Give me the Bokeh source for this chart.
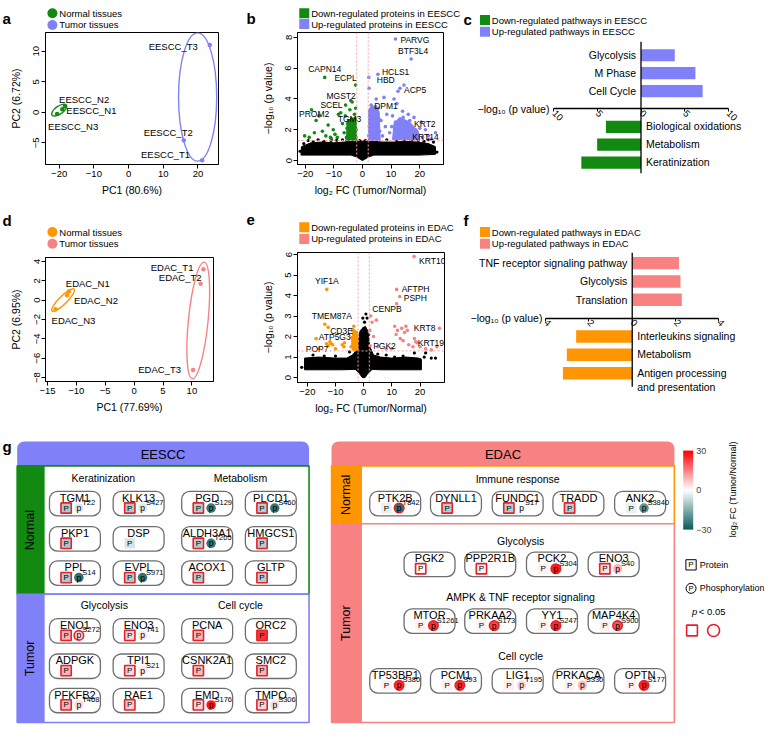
import math
from bokeh.plotting import figure
from bokeh.models import (Range1d, FixedTicker, CustomJSTickFormatter, Span, ColumnDataSource,
                          LinearColorMapper, ColorBar)
from bokeh.layouts import row, column
from bokeh.transform import transform
from bokeh.embed import file_html
from bokeh.resources import INLINE
from bokeh.core.properties import value

FONT = "Liberation Sans"
S = 764 / 780

GREEN = "#128a12"
BLUE = "#8080f8"
ORANGE = "#ff9500"
SALMON = "#f88282"
DOTC = "#f4a4a4"
RED = "#e3222b"

# ================= DATA =================
# (a) PCA, EESCC
a_samples = ["EESCC_N1", "EESCC_N2", "EESCC_N3", "EESCC_T1", "EESCC_T2", "EESCC_T3"]
a_pc1 = [-19.1, -18.3, -20.6, 21.2, 15.9, 23.4]
a_pc2 = [0.5, 1.0, -0.3, -7.85, -4.6, 11.0]
a_tumor = [0, 0, 0, 1, 1, 1]
a_ell_x = [-20.0, 19.9]
a_ell_y = [0.35, 2.5]
a_ell_w = [5.0, 11.0]
a_ell_h = [1.3, 21.0]
a_ell_ang = [0.6, 0.0]

# (d) PCA, EDAC
d_samples = ["EDAC_N1", "EDAC_N2", "EDAC_N3", "EDAC_T1", "EDAC_T2", "EDAC_T3"]
d_pc1 = [-11.3, -11.6, -13.6, 12.0, 11.5, 10.2]
d_pc2 = [0.9, 0.5, -0.95, 3.2, 1.7, -7.2]
d_tumor = [0, 0, 0, 1, 1, 1]
d_ell_x = [-12.3, 11.1]
d_ell_y = [0.0, -2.1]
d_ell_w = [5.4, 3.4]
d_ell_h = [0.8, 12.1]
d_ell_ang = [0.78, -0.1]

# (b) volcano, EESCC
b_cloud_x = [-21.5, -21.3, -18.0, -14.0, -10.0, -6.0, -3.0, -1.5, 0.0, 1.5, 3.0, 7.0, 11.0, 15.0,
             19.0, 23.0, 25.5, 25.5, 20.0, 10.0, 4.0, 2.0, 0.8, 0.0, -0.8, -2.0, -4.0, -10.0, -18.0]
b_cloud_y = [0.35, 0.9, 1.15, 1.2, 1.15, 1.2, 1.25, 1.3, 1.3, 1.3, 1.25, 1.2, 1.2, 1.25,
             1.2, 1.1, 0.9, 0.4, 0.35, 0.35, 0.35, 0.22, 0.08, 0.0, 0.08, 0.22, 0.35, 0.35, 0.35]
b_ns_x = [-21.8, -20.5, -19.0, -17.2, -15.5, -13.5, -11.0, -9.0, -7.0, -5.5, -4.0, -1.6, -1.2, -0.8,
          0.8, 1.2, 1.6, 5.0, 8.5, 12.0, 14.5, 17.0, 19.5, 21.5, 23.0, 24.8, 26.0, -1.0, 1.0, -0.4,
          0.4, -1.8, 1.8, -0.6, 0.6]
b_ns_y = [0.6, 1.1, 1.3, 1.22, 1.35, 1.25, 1.3, 1.32, 1.35, 1.3, 1.28, 1.2, 0.9, 0.6,
          0.55, 0.95, 1.25, 1.3, 1.35, 1.3, 1.28, 1.32, 1.3, 1.25, 1.35, 1.2, 0.55, 1.3, 1.3, 0.35,
          0.35, 0.5, 0.5, 1.1, 1.0]
b_dn_x = [-17.8, -15.2, -14.0, -12.8, -12.0, -11.2, -10.2, -9.6, -8.4, -7.0, -6.4, -6.0, -5.4, -4.8,
          -4.4, -3.6, -3.2, -2.8, -2.4, -20.2, -18.6, -16.8, -10.8, -8.8, -3.9, -2.9, -4.9, -3.3,
          -2.3, -2.6, -4.3, -5.2, -3.7, -2.5, -3.0, -4.6, -2.2, -3.5, -2.7, -4.0, -5.6, -3.1]
b_dn_y = [3.3, 2.9, 1.9, 1.6, 2.3, 1.5, 2.0, 1.7, 3.0, 2.4, 1.8, 2.9, 2.1, 2.6,
          3.3, 3.8, 2.5, 3.0, 3.4, 1.6, 1.5, 1.8, 1.4, 1.5, 2.3, 2.0, 1.6, 1.7,
          1.5, 2.4, 1.9, 2.4, 2.7, 2.1, 1.4, 2.2, 2.0, 1.9, 2.6, 1.6, 1.5, 2.2]
b_up_x = [2.3, 14.5, 12.4, 7.5, 11.0, 12.0, 14.0, 16.0, 18.0, 20.0, 22.0, 23.0, 10.5, 11.5, 15.5,
          17.0, 13.0, 19.0, 9.5, 8.0, 7.0, 6.5, 5.5, 3.0, 4.0, 2.5, 5.0, 3.5, 2.2, 6.0, 24.0, 21.0,
          8.5, 12.8, 16.5, 14.2, 10.2, 18.5, 20.5, 2.8, 3.8, 4.6, 5.8, 2.4, 3.2, 4.3, 5.2, 2.6, 3.6, 4.9]
b_up_y = [4.7, 4.9, 4.5, 4.1, 4.0, 3.7, 3.2, 3.0, 2.8, 2.1, 2.0, 1.6, 2.9, 2.5, 2.3,
          1.7, 1.6, 1.5, 1.8, 2.2, 1.6, 2.6, 3.4, 3.6, 3.1, 2.8, 2.4, 1.9, 1.6, 1.9, 1.4, 1.5,
          3.0, 2.0, 2.6, 2.8, 2.2, 2.0, 2.5, 3.3, 2.9, 3.5, 2.7, 2.2, 1.8, 2.0, 3.0, 1.5, 2.5, 1.7]
b_core_dn_x = [-5.6, -5.4, -4.4, -2.2, -2.0]
b_core_dn_y = [1.3, 2.3, 2.7, 2.8, 1.3]
b_core_up1_x = [2.1, 2.1, 3.4, 5.8, 6.2]
b_core_up1_y = [1.3, 3.3, 3.6, 3.2, 1.3]
b_core_up2_x = [10.5, 11.0, 13.0, 16.5, 19.5, 20.0]
b_core_up2_y = [1.35, 2.4, 2.8, 2.5, 1.9, 1.35]
b_lab = ["PARVG", "BTF3L4", "CAPN14", "ECPL", "HCLS1", "HBD", "ACP5", "MGST2", "SCEL", "PROM2",
         "TGM3", "DPM1", "KRT2", "KRT14"]
b_lab_x = [11.5, 17.0, -13.2, -2.4, 5.4, 2.2, 13.1, -4.1, -5.9, -16.2, -7.6, 4.8, 16.6, 25.5]
b_lab_y = [7.9, 6.6, 5.4, 4.9, 5.6, 5.4, 4.7, 3.9, 3.6, 2.6, 3.1, 4.0, 2.1, 1.8]

# (e) volcano, EDAC
e_cloud_x = [-21.0, -21.0, -16.0, -10.0, -6.0, -4.0, -2.8, -2.0, -1.2, -0.4, 0.6, 1.4, 2.2, 3.5,
             6.0, 10.0, 15.0, 19.5, 20.5, 20.5, 6.0, 3.0, 1.5, 0.5, -0.5, -1.5, -3.0, -8.0]
e_cloud_y = [0.38, 0.95, 1.0, 0.95, 0.95, 1.1, 1.3, 1.9, 2.3, 2.4, 2.5, 2.3, 1.5, 1.1,
             1.0, 0.95, 1.0, 0.95, 0.9, 0.38, 0.38, 0.4, 0.2, 0.0, 0.0, 0.2, 0.4, 0.38]
e_ns_x = [0.8, 1.2, 0.3, -0.8, 1.8, -22.0, 24.0, 22.0, -18.0, -10.0, 5.0, 14.0, 18.0, 21.5, -5.0,
          -2.0, 0.0, -1.4, 1.5, -0.3, 25.5, -14.0, 8.0, 11.0]
e_ns_y = [3.1, 2.9, 2.7, 2.0, 2.1, 0.5, 0.95, 1.2, 1.1, 1.05, 1.15, 1.05, 1.2, 1.0, 1.25,
          1.3, 2.4, 1.7, 1.9, 2.9, 0.95, 1.05, 1.1, 1.0]
e_dn_x = [-12.0, -11.0, -12.6, -7.6, -7.0, -6.8, -4.0, -3.5, -3.0, -2.5, -3.8, -2.8, -2.3, -4.5,
          -3.2, -2.6, -16.0, -10.0, -13.2, -3.4, -2.2, -4.2]
e_dn_y = [1.75, 1.6, 1.55, 1.6, 1.5, 1.7, 2.3, 2.5, 1.9, 2.2, 1.6, 1.5, 1.8, 1.5,
          2.1, 1.4, 1.4, 1.4, 1.65, 1.35, 2.0, 1.95]
e_up_x = [2.5, 3.0, 4.5, 2.2, 3.5, 11.0, 12.0, 13.5, 14.5, 15.5, 13.0, 14.0, 16.0, 17.5, 19.0,
          18.0, 20.0, 22.0, 24.0, 10.0, 8.0, 5.0, 26.0, 11.5, 15.0]
e_up_y = [3.0, 2.7, 2.8, 2.3, 2.0, 2.5, 2.3, 2.4, 2.2, 2.3, 1.9, 1.8, 1.6, 1.5, 1.7,
          1.9, 1.5, 1.4, 1.35, 1.4, 1.4, 1.5, 1.5, 2.1, 2.5]
e_core_dn_x = [-4.1, -4.3, -3.6, -2.2, -2.0]
e_core_dn_y = [1.35, 1.8, 2.4, 2.2, 1.35]
e_lab = ["KRT10", "YIF1A", "AFTPH", "PSPH", "CENPB", "TMEM87A", "CD3E", "ATP5G3", "POP7", "PGK2",
         "KRT8", "KRT19"]
e_lab_x = [17.9, -13.1, 11.7, 12.8, 11.7, -13.8, -12.6, -11.7, -16.9, 2.3, 26.9, 18.5]
e_lab_y = [5.9, 4.3, 4.3, 3.95, 3.6, 2.6, 2.45, 1.67, 1.9, 1.55, 2.4, 1.75]

# (c) pathways EESCC (-log10 p)
c_up_names = ["Glycolysis", "M Phase", "Cell Cycle"]
c_up_vals = [3.87, 6.24, 7.07]
c_dn_names = ["Biological oxidations", "Metabolism", "Keratinization"]
c_dn_vals = [4.02, 5.03, 6.84]

# (f) pathways EDAC (-log10 p)
f_up_names = ["TNF receptor signaling pathway", "Glycolysis", "Translation"]
f_up_vals = [2.16, 2.23, 2.29]
f_dn_names = ["Interleukins signaling", "Metabolism", "Antigen processing\nand presentation"]
f_dn_vals = [2.59, 3.02, 3.2]

# (g) protein / phosphosite log2 FC (Tumor/Normal), significance (p<0.05)
eescc_n_genes = ["TGM1", "KLK13", "PGD", "PLCD1", "PKP1", "DSP", "ALDH3A1", "HMGCS1", "PPL", "EVPL", "ACOX1", "GLTP"]
eescc_n_pfc = [-10, -10, -9, -9, -10, -5, -9, -9, -10, -10, -9, -9]
eescc_n_psig = [1, 1, 1, 1, 1, 0, 1, 1, 1, 1, 1, 1]
eescc_n_site = ["T22", "S427", "S129", "S460", "", "", "T205", "", "S14", "S971", "", ""]
eescc_n_sfc = [-4, -4, -25, -25, 0, 0, -25, 0, -26, -25, 0, 0]
eescc_n_ssig = [0, 0, 0, 0, 0, 0, 0, 0, 0, 0, 0, 0]

eescc_t_genes = ["ENO1", "ENO3", "PCNA", "ORC2", "ADPGK", "TPI1", "CSNK2A1", "SMC2", "PFKFB2", "RAE1", "EMD", "TMPO"]
eescc_t_pfc = [9, 5, 9, 24, 9, 5, 8, 9, 9, 6, 5, 5]
eescc_t_psig = [1, 1, 1, 1, 1, 1, 1, 1, 1, 1, 1, 1]
eescc_t_site = ["S272", "T41", "", "", "", "S21", "", "", "T468", "", "S176", "S306"]
eescc_t_sfc = [5, 3, 0, 0, 0, 3, 0, 0, 4, 0, 27, 4]
eescc_t_ssig = [1, 0, 0, 0, 0, 0, 0, 0, 0, 0, 0, 0]

edac_n_genes = ["PTK2B", "DYNLL1", "FUNDC1", "TRADD", "ANK2"]
edac_n_pfc = [-3, -9, -9, -9, -3]
edac_n_psig = [0, 1, 1, 1, 0]
edac_n_site = ["T842", "", "S17", "", "S3840"]
edac_n_sfc = [-26, 0, -1, 0, -20]
edac_n_ssig = [1, 0, 0, 0, 0]

edac_glyc_genes = ["PGK2", "PPP2R1B", "PCK2", "ENO3"]
edac_glyc_pfc = [1, 2, 2, 4]
edac_glyc_psig = [1, 1, 0, 1]
edac_glyc_site = ["", "", "S304", "S40"]
edac_glyc_sfc = [0, 0, 27, 9]
edac_glyc_ssig = [0, 0, 1, 0]

edac_ampk_genes = ["MTOR", "PRKAA2", "YY1", "MAP4K4"]
edac_ampk_pfc = [2, 2, 2, 2]
edac_ampk_psig = [0, 0, 0, 0]
edac_ampk_site = ["S1261", "S173", "S247", "S900"]
edac_ampk_sfc = [24, 22, 25, 20]
edac_ampk_ssig = [1, 1, 1, 1]

edac_cc_genes = ["TP53BP1", "PCM1", "LIG1", "PRKACA", "OPTN"]
edac_cc_pfc = [2, 2, 2, 2, 2]
edac_cc_psig = [0, 0, 0, 0, 0]
edac_cc_site = ["S380", "S93", "T195", "S330", "S177"]
edac_cc_sfc = [25, 25, 5, 8, 26]
edac_cc_ssig = [1, 1, 0, 0, 1]

cb_ticks = [-30, 0, 30]


# ================= HELPERS =================
def minus_fmt():
    return CustomJSTickFormatter(code="return tick < 0 ? '\u2212' + Math.abs(tick) : String(tick);")


def abs_fmt():
    return CustomJSTickFormatter(code="return String(Math.abs(tick));")


def style_axis(ax, ticks, fmt, orient=None, label_standoff=4):
    ax.ticker = FixedTicker(ticks=ticks)
    ax.formatter = fmt
    ax.axis_line_color = "black"
    ax.axis_line_width = 1
    ax.major_tick_line_color = "black"
    ax.major_tick_out = 4
    ax.major_tick_in = 0
    ax.minor_tick_line_color = None
    ax.major_label_standoff = 2
    ax.major_label_text_font = FONT
    ax.major_label_text_font_size = "9.5px"
    ax.major_label_text_color = "black"
    ax.axis_label_text_font = FONT
    ax.axis_label_text_font_size = "10.5px"
    ax.axis_label_text_font_style = "normal"
    ax.axis_label_text_color = "black"
    ax.axis_label_standoff = label_standoff
    if orient is not None:
        ax.major_label_orientation = orient


def bare(w, h, xr, yr):
    f = figure(width=w, height=h, x_range=xr, y_range=yr, output_backend="svg", toolbar_location=None,
               min_border=0, x_axis_location=None, y_axis_location=None, frame_align=False)
    f.grid.visible = False
    f.outline_line_color = None
    f.background_fill_color = "white"
    f.border_fill_color = "white"
    return f


class Panel:
    """A header strip (letter + key) stacked over the plot; header drawn in reference pixels."""

    def __init__(self, w, h, ox, oy, hdr, frame, xr, yr, axes="xy"):
        hh = round(hdr * S)
        self.h = bare(w, hh, Range1d(ox, ox + w / S), Range1d(oy + hh / S, oy))
        fl, ft, fr, fb = frame
        ph = h - hh
        left = round(fl * S)
        top = max(round(ft * S) - hh, 0)
        right = w - round(fr * S)
        bottom = h - round(fb * S)
        kw = {}
        if "x" not in axes:
            kw["x_axis_location"] = None
        if "y" not in axes:
            kw["y_axis_location"] = None
        p = figure(width=w, height=ph, x_range=Range1d(*xr), y_range=Range1d(*yr),
                   output_backend="svg", toolbar_location=None, frame_align=False,
                   min_border_left=left, min_border_right=right,
                   min_border_top=top, min_border_bottom=bottom, **kw)
        p.grid.visible = False
        p.outline_line_color = None
        p.background_fill_color = "white"
        p.border_fill_color = "white"
        self.p = p
        self.root = column(self.h, p)

    def letter(self, x, y, t):
        self.h.text(x=[x], y=[y], text=[t], text_align="left", text_baseline="alphabetic",
                    text_font=value(FONT), text_font_size="15px", text_font_style="bold", text_color="black")

    def key(self, x, ys, labels, colors, marker):
        self.h.scatter(x=[x] * len(ys), y=ys, marker=marker, size=10, color=colors, line_color=None)
        self.h.text(x=[x + 7] * len(ys), y=ys, text=labels, text_align="left", text_baseline="middle",
                    text_font=value(FONT), text_font_size="9.5px", text_color="black")


def add_labels(p, names, xs, ys, offs, size="8.5px"):
    for al in ("left", "center", "right"):
        idx = [i for i, o in enumerate(offs) if o[2] == al]
        if not idx:
            continue
        src = ColumnDataSource(dict(x=[xs[i] for i in idx], y=[ys[i] for i in idx],
                                    t=[names[i] for i in idx], dx=[offs[i][0] for i in idx],
                                    dy=[offs[i][1] for i in idx]))
        p.text(x="x", y="y", text="t", x_offset="dx", y_offset="dy", source=src, text_align=al,
               text_baseline="middle", text_font=value(FONT), text_font_size=size, text_color="black")


def pca(pn, samples, pc1, pc2, tumor, ell, colN, colT, xt, yt, xl, yl, offs):
    p = pn.p
    p.outline_line_color = "black"
    style_axis(p.xaxis[0], xt, minus_fmt(), label_standoff=4)
    style_axis(p.yaxis[0], yt, minus_fmt(), orient="vertical", label_standoff=9)
    p.xaxis.axis_label = xl
    p.yaxis.axis_label = yl
    ex, ey, ew, eh, ea = ell
    p.ellipse(x=ex, y=ey, width=ew, height=eh, angle=ea, fill_color=None,
              line_color=[colN, colT], line_width=1.4)
    cols = [colT if t else colN for t in tumor]
    p.scatter(x=pc1, y=pc2, size=4.5, color=cols, line_color=None)
    add_labels(p, samples, pc1, pc2, offs, size="9.5px")


def volcano(pn, cloud, ns, dn, up, cores, labs, colD, colU, yt, offs):
    p = pn.p
    p.outline_line_color = "black"
    style_axis(p.xaxis[0], [-20, -10, 0, 10, 20], minus_fmt(), label_standoff=4)
    style_axis(p.yaxis[0], yt, minus_fmt(), orient="vertical", label_standoff=9)
    p.xaxis.axis_label = "log\u2082 FC (Tumor/Normal)"
    p.yaxis.axis_label = "\u2212log\u2081\u2080 (p value)"
    p.patch(x=cloud[0], y=cloud[1], fill_color="black", line_color="black", line_width=1)
    p.scatter(x=ns[0], y=ns[1], size=3.2, color="black", line_color=None)
    for cx, cy, cc in cores:
        p.patch(x=cx, y=cy, fill_color=cc, line_color=cc, line_width=1)
    p.scatter(x=dn[0], y=dn[1], size=3.6, color=colD, line_color=None)
    p.scatter(x=up[0], y=up[1], size=3.6, color=colU, line_color=None)
    lcols = [colD if v < 0 else colU for v in labs[1]]
    p.scatter(x=labs[1], y=labs[2], size=3.6, color=lcols, line_color=None)
    for loc in (-2, 2):
        p.add_layout(Span(location=loc, dimension="height", line_color=DOTC, line_dash="2 2", line_width=1))
    p.add_layout(Span(location=1.3, dimension="width", line_color=DOTC, line_dash="2 2", line_width=1))
    add_labels(p, labs[0], labs[1], labs[2], offs, size="8.5px")


def pathway(pn, up_names, up_vals, dn_names, dn_vals, colU, colD, ticks, lab_x, vline):
    p = pn.p
    up_pos = [3, 2, 1]
    dn_pos = [-1, -2, -3]
    ax = p.xaxis[0]
    style_axis(ax, ticks, abs_fmt(), orient=-math.pi / 4)
    ax.fixed_location = 0
    ax.bounds = (ticks[0], ticks[-1])
    ax.axis_line_width = 1.3
    ax.major_tick_out = 3
    ax.major_label_standoff = 0
    ax.major_label_text_font_size = "9.5px"
    p.hbar(y=up_pos, left=0, right=up_vals, height=0.68, fill_color=colU, line_color=None)
    p.hbar(y=dn_pos, left=[-v for v in dn_vals], right=0, height=0.68, fill_color=colD, line_color=None)
    p.segment(x0=[0], y0=[vline[0]], x1=[0], y1=[vline[1]], line_color="black", line_width=1.3)
    p.text(x=[0] * 3, y=up_pos, text=up_names, x_offset=-5, text_align="right", text_baseline="middle",
           text_font=value(FONT), text_font_size="10.5px", text_color="black")
    p.text(x=[0] * 3, y=dn_pos, text=dn_names, x_offset=5, y_offset=-6.5, text_align="left",
           text_baseline="top", text_font=value(FONT), text_font_size="10.5px", text_color="black",
           text_line_height=1.2)
    p.text(x=[lab_x], y=[0], text=["\u2212log\u2081\u2080 (p value)"], text_align="right",
           text_baseline="middle", text_font=value(FONT), text_font_size="10.5px", text_color="black")


# ================= PANELS =================
W = [245, 215, 304]
H = [210, 227, 288]

# a
pa = Panel(W[0], H[0], 0, 0, 31, (46, 33, 223, 167), (-23.94, 25.92), (-8.55, 13.06))
pca(pa, a_samples, a_pc1, a_pc2, a_tumor, (a_ell_x, a_ell_y, a_ell_w, a_ell_h, a_ell_ang), GREEN, BLUE,
    [-20, -10, 0, 10, 20], [-5, 0, 5, 10], "PC1 (80.6%)", "PC2 (6.72%)",
    [(4, 1, "left"), (-6, -7, "left"), (-9, 12, "left"), (-12, -6, "right"), (9, -8, "right"), (-12, 1, "right")])
pa.letter(2, 18, "a")
pa.key(53, [13, 25], ["Normal tissues", "Tumor tissues"], [GREEN, BLUE], "circle")

# b
pb = Panel(W[1], H[0], 250, 0, 31, (53, 33, 202, 167), (-22.7, 28.3), (-0.26, 8.32))
volcano(pb, (b_cloud_x, b_cloud_y), (b_ns_x, b_ns_y), (b_dn_x, b_dn_y), (b_up_x, b_up_y),
        [(b_core_dn_x, b_core_dn_y, GREEN), (b_core_up1_x, b_core_up1_y, BLUE), (b_core_up2_x, b_core_up2_y, BLUE)],
        (b_lab, b_lab_x, b_lab_y), GREEN, BLUE, [0, 2, 4, 6, 8],
        [(5, 1, "left"), (2, -8, "center"), (0, -8, "center"), (1, -7, "right"), (4, -2, "left"),
         (8, 3, "left"), (4, 2, "left"), (5, -5, "right"), (-3, 0, "right"), (-2, -7, "center"),
         (-3, 6, "left"), (-2, 7, "left"), (4, -4, "left"), (-10, 4, "center")])
pb.letter(251, 18, "b")
pb.key(310, [13, 24], ["Down-regulated proteins in EESCC", "Up-regulated proteins in EESCC"], [GREEN, BLUE], "square")

# c
pc = Panel(W[2], H[0], 470, 0, 40, (10, 42, 310, 177), (-19.55, 14.16), (-3.61, 3.77), axes="x")
pathway(pc, c_up_names, c_up_vals, c_dn_names, c_dn_vals, BLUE, GREEN, [-10, -5, 0, 5, 10], -10.5, (-3.61, 3.77))
pc.letter(473, 19, "c")
pc.key(495, [20, 32], ["Down-regulated pathways in EESCC", "Up-regulated pathways in EESCC"], [GREEN, BLUE], "square")

# d
pd = Panel(W[0], H[1], 0, 215, 42, (46, 48, 217, 175), (-15.34, 13.74), (-8.4, 4.4))
pca(pd, d_samples, d_pc1, d_pc2, d_tumor, (d_ell_x, d_ell_y, d_ell_w, d_ell_h, d_ell_ang), ORANGE, SALMON,
    [-15, -10, -5, 0, 5, 10], [-8, -6, -4, -2, 0, 2, 4], "PC1 (77.69%)", "PC2 (6.95%)",
    [(-3, -8, "left"), (7, 5, "left"), (-4, 11, "left"), (-10, -2, "right"), (1, -6, "right"), (-12, 0, "right")])
pd.letter(2, 225, "d")
pd.key(53, [237, 249], ["Normal tissues", "Tumor tissues"], [ORANGE, SALMON], "circle")

# e
pe = Panel(W[1], H[1], 250, 215, 38, (53, 43, 203, 176), (-23.5, 28.7), (-0.24, 6.1))
volcano(pe, (e_cloud_x, e_cloud_y), (e_ns_x, e_ns_y), (e_dn_x, e_dn_y), (e_up_x, e_up_y),
        [(e_core_dn_x, e_core_dn_y, ORANGE)],
        (e_lab, e_lab_x, e_lab_y), ORANGE, SALMON, [0, 1, 2, 3, 4, 5, 6],
        [(5, 4, "left"), (0, -8, "center"), (5, 0, "left"), (4, 1, "left"), (5, 5, "right"),
         (7, -8, "center"), (2, 4, "left"), (4, -6, "center"), (1, 10, "center"), (3, 0, "left"),
         (-4, 0, "right"), (2, 1, "left")])
pe.letter(251, 225, "e")
pe.key(310, [232, 244], ["Down-regulated proteins in EDAC", "Up-regulated proteins in EDAC"], [ORANGE, SALMON], "square")

# f  (frame extended below so the two-line label fits; zero line spans the original extent)
pf = Panel(W[2], H[1], 470, 215, 41, (10, 43, 310, 192), (-7.47, 6.11), (-4.38, 3.58), axes="x")
pathway(pf, f_up_names, f_up_vals, f_dn_names, f_dn_vals, SALMON, ORANGE, [-4, -2, 0, 2, 4], -4.15, (-3.74, 3.58))
pf.letter(473, 225, "f")
pf.key(495, [237, 249], ["Down-regulated pathways in EDAC", "Up-regulated pathways in EDAC"], [ORANGE, SALMON], "square")

# ================= PANEL g =================
pg = bare(W[0] + W[1] + W[2], H[2], Range1d(0, 780), Range1d(0, 294))


def Y(v):
    return 741 - v


def _hex(c):
    return "#%02x%02x%02x" % tuple(int(round(v)) for v in c)


TEAL_END = (10, 92, 92)
WHITE = (255, 255, 255)
RED_END = (255, 0, 0)
PAL = [_hex([a + (b - a) * k / 127 for a, b in zip(TEAL_END, WHITE)]) for k in range(128)] + \
      [_hex([a + (b - a) * k / 127 for a, b in zip(WHITE, RED_END)]) for k in range(128)]
mapper = LinearColorMapper(palette=PAL, low=-30, high=30)

# headers
hdr_names = ["EESCC", "EDAC"]
hdr_left = [17, 338]
hdr_right = [315, 688]
pg.quad(left=hdr_left, right=hdr_right, top=[Y(451)] * 2, bottom=[Y(476)] * 2,
        fill_color=[BLUE, SALMON], line_color=None, border_radius=(7, 7, 0, 0))
pg.text(x=[(l + r) / 2 for l, r in zip(hdr_left, hdr_right)], y=[Y(464)] * 2, text=hdr_names,
        text_align="center", text_baseline="middle", text_font=value(FONT), text_font_size="13px",
        text_color="black")

# blocks: (label, col_left, col_right, content_right, top, bottom, color)
blocks = [("Normal", 17, 44, 315, 476, 607, GREEN), ("Tumor", 17, 44, 315, 607, 738, BLUE),
          ("Normal", 338, 368, 688, 476, 535, ORANGE), ("Tumor", 338, 368, 688, 535, 738, SALMON)]
for name, cl, cr, rr, t, b, col in blocks:
    pg.quad(left=[cr], right=[rr], top=[Y(t)], bottom=[Y(b)], fill_color="white", line_color=col,
            line_width=1.6)
    pg.quad(left=[cl], right=[cr], top=[Y(t)], bottom=[Y(b)], fill_color=col, line_color=col,
            line_width=1.6)
    pg.text(x=[(cl + cr) / 2], y=[Y((t + b) / 2)], text=[name], angle=math.pi / 2, text_align="center",
            text_baseline="middle", text_font=value(FONT), text_font_size="12.5px", text_color="black")

# section titles
titles = ["Keratinization", "Metabolism", "Glycolysis", "Cell cycle", "Immune response", "Glycolysis",
          "AMPK & TNF receptor signaling", "Cell cycle"]
title_x = [105, 245, 106, 245, 528, 531, 531, 531]
title_y = [488, 488, 618, 618, 489, 553, 610, 670]
pg.text(x=title_x, y=[Y(v) for v in title_y], text=titles, text_align="center", text_baseline="middle",
        text_font=value(FONT), text_font_size="10.5px", text_color="black")

EESCC_COLS = [50, 115, 185, 250]
EDAC5 = [377, 439, 502, 564, 627]
EDAC4 = [412, 474, 537, 600]
groups = [
    (eescc_n_genes, eescc_n_pfc, eescc_n_psig, eescc_n_site, eescc_n_sfc, eescc_n_ssig, EESCC_COLS, [502, 538, 573]),
    (eescc_t_genes, eescc_t_pfc, eescc_t_psig, eescc_t_site, eescc_t_sfc, eescc_t_ssig, EESCC_COLS, [632, 668, 703]),
    (edac_n_genes, edac_n_pfc, edac_n_psig, edac_n_site, edac_n_sfc, edac_n_ssig, EDAC5, [502]),
    (edac_glyc_genes, edac_glyc_pfc, edac_glyc_psig, edac_glyc_site, edac_glyc_sfc, edac_glyc_ssig, EDAC4, [564]),
    (edac_ampk_genes, edac_ampk_pfc, edac_ampk_psig, edac_ampk_site, edac_ampk_sfc, edac_ampk_ssig, EDAC4, [622]),
    (edac_cc_genes, edac_cc_pfc, edac_cc_psig, edac_cc_site, edac_cc_sfc, edac_cc_ssig, EDAC5, [683]),
]
BW, BH = 52, 25
gd = dict(l=[], r=[], t=[], b=[], nx=[], ny=[], px=[], py=[], name=[], pfc=[], psig=[])
sd = dict(cx=[], cy=[], lx=[], ly=[], site=[], sfc=[], ssig=[])
for genes, pf_, ps_, st_, sf_, ss_, cols, tops in groups:
    for i, gname in enumerate(genes):
        bx = cols[i % len(cols)]
        by = tops[i // len(cols)]
        gd["l"].append(bx)
        gd["r"].append(bx + BW)
        gd["t"].append(Y(by))
        gd["b"].append(Y(by + BH))
        gd["nx"].append(bx + BW / 2)
        gd["ny"].append(Y(by + 6.5))
        gd["px"].append(bx + 17)
        gd["py"].append(Y(by + 17))
        gd["name"].append(gname)
        gd["pfc"].append(pf_[i])
        gd["psig"].append(float(ps_[i]))
        if st_[i]:
            sd["cx"].append(bx + 30)
            sd["cy"].append(Y(by + 17))
            sd["lx"].append(bx + 33.5)
            sd["ly"].append(Y(by + 11.5))
            sd["site"].append(st_[i])
            sd["sfc"].append(sf_[i])
            sd["ssig"].append(float(ss_[i]))
gsrc = ColumnDataSource(gd)
ssrc = ColumnDataSource(sd)

pg.quad(left="l", right="r", top="t", bottom="b", source=gsrc, fill_color="white", line_color="#6e6e6e",
        line_width=1.3, border_radius=8)
pg.text(x="nx", y="ny", text="name", source=gsrc, text_align="center", text_baseline="middle",
        text_font=value(FONT), text_font_size="11px", text_color="black")
pg.rect(x="px", y="py", width=10.5, height=10.5, source=gsrc, fill_color=transform("pfc", mapper),
        line_color=RED, line_alpha="psig", line_width=1.6)
pg.text(x="px", y="py", text=value("P"), source=gsrc, text_align="center", text_baseline="middle",
        text_font=value(FONT), text_font_size="8px", text_color="black")
pg.scatter(x="cx", y="cy", source=ssrc, size=9.5, fill_color=transform("sfc", mapper),
           line_color=RED, line_alpha="ssig", line_width=1.6)
pg.text(x="cx", y="cy", text=value("p"), source=ssrc, text_align="center", text_baseline="middle",
        text_font=value(FONT), text_font_size="8.5px", text_color="black")
pg.text(x="lx", y="ly", text="site", source=ssrc, text_align="left", text_baseline="middle",
        text_font=value(FONT), text_font_size="7.5px", text_color="black")

# colour bar + key
cb = ColorBar(color_mapper=mapper, location=(697 * S, (741 - 541) * S), width=10, height=round(81 * S),
              ticker=FixedTicker(ticks=cb_ticks),
              major_label_overrides={-30: "\u221230", 0: "0", 30: "30"},
              major_label_text_font=FONT, major_label_text_font_size="9px", label_standoff=3,
              padding=0, margin=0, background_fill_alpha=0, border_line_color=None,
              bar_line_color=None, major_tick_line_color=None)
pg.add_layout(cb)
pg.text(x=[748], y=[Y(500)], text=["log\u2082 FC (Tumor/Normal)"], angle=math.pi / 2, text_align="center",
        text_baseline="middle", text_font=value(FONT), text_font_size="9px", text_color="black")
pg.rect(x=[705], y=[Y(577)], width=10.5, height=10.5, fill_color="white", line_color="black", line_width=1)
pg.text(x=[705], y=[Y(577)], text=["P"], text_align="center", text_baseline="middle",
        text_font=value(FONT), text_font_size="8px", text_color="black")
pg.scatter(x=[705], y=[Y(601)], size=10, fill_color="white", line_color="black", line_width=1)
pg.text(x=[705], y=[Y(601)], text=["P"], text_align="center", text_baseline="middle",
        text_font=value(FONT), text_font_size="7.5px", text_color="black")
pg.text(x=[714, 714], y=[Y(577), Y(601)], text=["Protein", "Phosphorylation"], text_align="left",
        text_baseline="middle", text_font=value(FONT), text_font_size="9px", text_color="black")
pg.text(x=[706], y=[Y(625)], text=["p"], text_align="left", text_baseline="middle", text_font=value(FONT),
        text_font_size="9.5px", text_font_style="italic", text_color="black")
pg.text(x=[713], y=[Y(625)], text=["< 0.05"], text_align="left", text_baseline="middle",
        text_font=value(FONT), text_font_size="9.5px", text_color="black")
pg.rect(x=[706], y=[Y(644)], width=11, height=11, fill_color=None, line_color=RED, line_width=1.6)
pg.scatter(x=[728], y=[Y(644)], size=12, fill_color=None, line_color=RED, line_width=1.6)
pg.text(x=[2], y=[Y(456)], text=["g"], text_align="left", text_baseline="alphabetic",
        text_font=value(FONT), text_font_size="15px", text_font_style="bold", text_color="black")

layout = column(row(pa.root, pb.root, pc.root), row(pd.root, pe.root, pf.root), pg)
open("out.html", "w").write(file_html(layout, INLINE))
